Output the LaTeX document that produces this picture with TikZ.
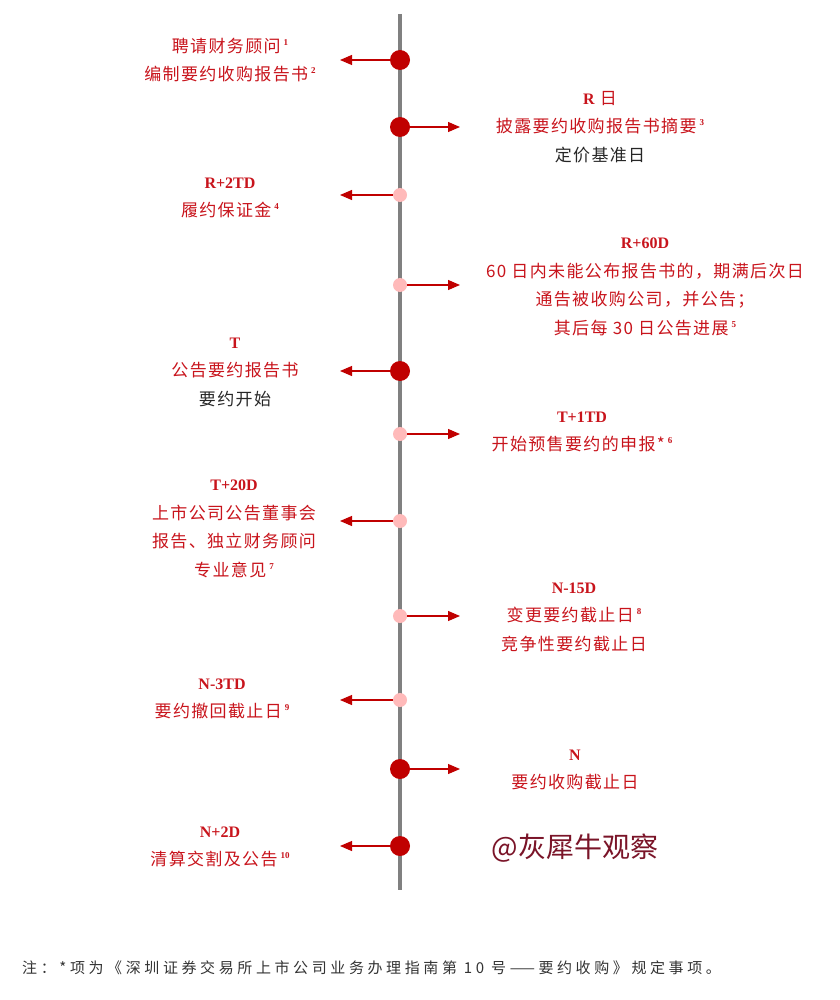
\documentclass[tikz,border=0pt]{standalone}
\usepackage{fontspec}
\setmainfont{Liberation Serif}
\newfontfamily\cjk[LetterSpace=8]{Noto Sans CJK SC}
\newfontfamily\notefont[LetterSpace=24]{Noto Sans CJK SC}
\newfontfamily\markfont{Noto Sans CJK SC}
\usetikzlibrary{arrows.meta}

\definecolor{dotred}{HTML}{C00000}
\definecolor{dotpink}{HTML}{FFBABA}
\definecolor{axisgray}{HTML}{808080}
\definecolor{txtred}{HTML}{C8141C}
\definecolor{markred}{HTML}{7A1428}

\newcommand{\daymark}[1]{{\rmfamily\bfseries\fontsize{16}{16}\selectfont #1}}
\newcommand{\fnum}[1]{\hspace{3pt}\raisebox{0.75ex}{\rmfamily\bfseries\fontsize{9}{9}\selectfont #1}}
\newcommand{\plain}[1]{{\color{black!85}#1}}

\begin{document}
\begin{tikzpicture}[x=1pt,y=-1pt,
    bigdot/.style={circle,fill=dotred,minimum size=20pt,inner sep=0pt},
    smalldot/.style={circle,fill=dotpink,minimum size=14pt,inner sep=0pt},
    lbl/.style={align=center,text=txtred,inner sep=0pt,font=\cjk\fontsize{17}{28.5}\selectfont},
    tick/.style={dotred,line width=1.1pt,-{Triangle[length=12pt,width=10pt]}}]
  \useasboundingbox (0,0) rectangle (839,1000);

  % time axis
  \coordinate (top) at (400,14);
  \coordinate (bot) at (400,890);
  \draw[axisgray,line width=4pt] (top) -- (bot);

  % dots on the axis
  \node[bigdot] (hire) at (400,60) {};
  \node[bigdot] (rday) at (400,127) {};
  \node[smalldot] (r2td) at (400,195) {};
  \node[smalldot] (r60d) at (400,285) {};
  \node[bigdot] (tday) at (400,371) {};
  \node[smalldot] (t1td) at (400,434) {};
  \node[smalldot] (t20d) at (400,521) {};
  \node[smalldot] (n15d) at (400,616) {};
  \node[smalldot] (n3td) at (400,700) {};
  \node[bigdot] (nday) at (400,769) {};
  \node[bigdot] (n2d) at (400,846) {};

  % arrow ends
  \coordinate (hire-e) at (340,60);
  \coordinate (rday-e) at (460,127);
  \coordinate (r2td-e) at (340,195);
  \coordinate (r60d-e) at (460,285);
  \coordinate (tday-e) at (340,371);
  \coordinate (t1td-e) at (460,434);
  \coordinate (t20d-e) at (340,521);
  \coordinate (n15d-e) at (460,616);
  \coordinate (n3td-e) at (340,700);
  \coordinate (nday-e) at (460,769);
  \coordinate (n2d-e) at (340,846);

  \begin{scope}[tick]
    \draw (hire) -- (hire-e);
    \draw (rday) -- (rday-e);
    \draw (r2td) -- (r2td-e);
    \draw (r60d) -- (r60d-e);
    \draw (tday) -- (tday-e);
    \draw (t1td) -- (t1td-e);
    \draw (t20d) -- (t20d-e);
    \draw (n15d) -- (n15d-e);
    \draw (n3td) -- (n3td-e);
    \draw (nday) -- (nday-e);
    \draw (n2d) -- (n2d-e);
  \end{scope}

  % labels
  \node[lbl] (hire-t) at (230,60) {聘请财务顾问\fnum{1}\\编制要约收购报告书\fnum{2}};
  \node[lbl] (rday-t) at (600,127) {\daymark{R} 日\\披露要约收购报告书摘要\fnum{3}\\\plain{定价基准日}};
  \node[lbl] (r2td-t) at (230,198) {\daymark{R+2TD}\\履约保证金\fnum{4}};
  \node[lbl] (r60d-t) at (645,287) {\daymark{R+60D}\\60 日内未能公布报告书的，期满后次日\\通告被收购公司，并公告；\\其后每 30 日公告进展\fnum{5}};
  \node[lbl] (tday-t) at (235,372) {\daymark{T}\\公告要约报告书\\\plain{要约开始}};
  \node[lbl] (t1td-t) at (582,432) {\daymark{T+1TD}\\开始预售要约的申报*\fnum{6}};
  \node[lbl] (t20d-t) at (234,529) {\daymark{T+20D}\\上市公司公告董事会\\报告、独立财务顾问\\专业意见\fnum{7}};
  \node[lbl] (n15d-t) at (574,617) {\daymark{N-15D}\\变更要约截止日\fnum{8}\\竞争性要约截止日};
  \node[lbl] (n3td-t) at (222,699) {\daymark{N-3TD}\\要约撤回截止日\fnum{9}};
  \node[lbl] (nday-t) at (575,770) {\daymark{N}\\要约收购截止日};
  \node[lbl] (n2d-t) at (220,847) {\daymark{N+2D}\\清算交割及公告\fnum{10}};

  % watermark and note
  \node[text=markred,font=\markfont\fontsize{28}{28}\selectfont] (mark) at (575,848) {@灰犀牛观察};
  \node[anchor=west,inner sep=0pt,text=black!80,font=\notefont\fontsize{15}{15}\selectfont] (note) at (22,968)
    {注：*项为《深圳证券交易所上市公司业务办理指南第 10 号——要约收购》规定事项。};
\end{tikzpicture}
\end{document}
